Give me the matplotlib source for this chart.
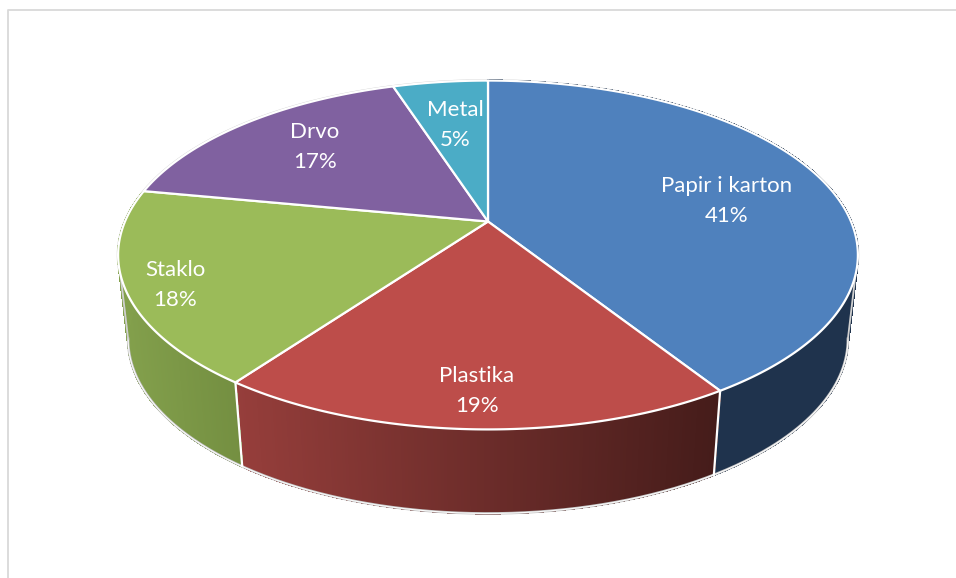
import numpy as np
from matplotlib import pyplot as plt
from matplotlib.collections import PolyCollection
from matplotlib.colors import to_rgb
from matplotlib.patches import Polygon

labels = ['Papir i karton', 'Plastika', 'Staklo', 'Drvo', 'Metal']
shares = [41, 19, 18, 17, 5]
top_colors = ['#4F81BD', '#BD4D4A', '#9BBB59', '#8061A0', '#4BACC6']

# side wall shading, left colour -> right colour (None = no visible wall)
side_colors = [('#1F334D', '#1F334D'), ('#963E3B', '#451C1A'), ('#83A04C', '#748F41'), None, None]

# projection of the pie in picture pixels
CX, CY = 488, 221.5
A, B, K = 363, 168, 0.192
DEPTH = 84
SHRINK = 0.973
# where the wall silhouette leaves the disc
SIDE_START, SIDE_STOP = 101.0, 259.0


def project(angle_deg):
    # angle runs clockwise from 12 o'clock, far side of the disc comes out smaller
    t = np.radians(angle_deg)
    u, v = np.sin(t), np.cos(t)
    w = 1 + K * v
    return CX + A * u / w, CY - B * v / w


def project_bottom(angle_deg):
    x, y = project(angle_deg)
    return CX + SHRINK * (x - CX), y + DEPTH


def mix(c1, c2, f):
    c1, c2 = np.array(to_rgb(c1)), np.array(to_rgb(c2))
    return tuple(c1 + (c2 - c1) * f)


def draw_side(ax, start, stop, colors):
    angles = np.linspace(start, stop, 160)
    xt, yt = project(angles)
    xb, yb = project_bottom(angles)
    quads = []
    faces = []
    x_min, x_max = xb.min(), xb.max()
    for i in range(len(angles) - 1):
        quads.append([(xt[i], yt[i]), (xt[i + 1], yt[i + 1]), (xb[i + 1], yb[i + 1]), (xb[i], yb[i])])
        faces.append(mix(colors[0], colors[1], np.clip((xb[i] - x_min) / (x_max - x_min), 0, 1)))
    # no antialiasing here, it leaves streaks between the strips
    ax.add_collection(PolyCollection(quads, facecolors=faces, edgecolors=faces, linewidths=1.0,
                                     antialiaseds=False, zorder=2))


fig = plt.figure(figsize=(9.56, 5.78), dpi=100, facecolor='white')
ax = fig.add_axes([0, 0, 1, 1])
ax.set_xlim(0, 956)
ax.set_ylim(578, 0)
ax.axis('off')

# chart frame, only left and top are in the crop
ax.plot([8, 8, 956], [578, 10, 10], color='#D9D9D9', lw=1.3, zorder=0)

edges = np.concatenate([[0], np.cumsum(shares)]) * 3.6

# thin grey outline round the whole disc
full = np.linspace(0, 360, 721)
x_top, y_top = project(full)
ax.plot(x_top, y_top, color='#D0D0D0', lw=2.0, zorder=1)
x_low, y_low = project_bottom(np.linspace(SIDE_START, SIDE_STOP, 361))
ax.plot(x_low, y_low, color='#C4C4C4', lw=1.8, zorder=3)
ax.plot(x_low, y_low, color='white', lw=0.7, zorder=3)
for ang in [SIDE_START, SIDE_STOP]:
    x0, y0 = project(ang)
    x1, y1 = project_bottom(ang)
    ax.plot([x0, x1], [y0, y1], color='#D0D0D0', lw=1.3, zorder=3)

for i, colors in enumerate(side_colors):
    if colors is not None:
        draw_side(ax, edges[i], edges[i + 1], colors)

# white seams between the walls
for ang in edges[1:3]:
    x0, y0 = project(ang)
    x1, y1 = project_bottom(ang)
    ax.plot([x0, x1], [y0, y1], color='white', lw=1.6, zorder=3)

# top face
for i, color in enumerate(top_colors):
    angles = np.linspace(edges[i], edges[i + 1], 200)
    xs, ys = project(angles)
    pts = np.vstack([[CX, CY], np.column_stack([xs, ys])])
    ax.add_patch(Polygon(pts, closed=True, facecolor=color, edgecolor='white', lw=1.6, joinstyle='round', zorder=4))

label_pos = [(727, 201), (477, 391), (175, 285), (315, 147), (455, 125)]
for name, share, (lx, ly) in zip(labels, shares, label_pos):
    ax.text(lx, ly, f'{name}\n{share}%', color='white', fontsize=16, family='Lato', ha='center', va='center',
            linespacing=1.6, zorder=5)

fig.savefig('out.png', dpi=100)
